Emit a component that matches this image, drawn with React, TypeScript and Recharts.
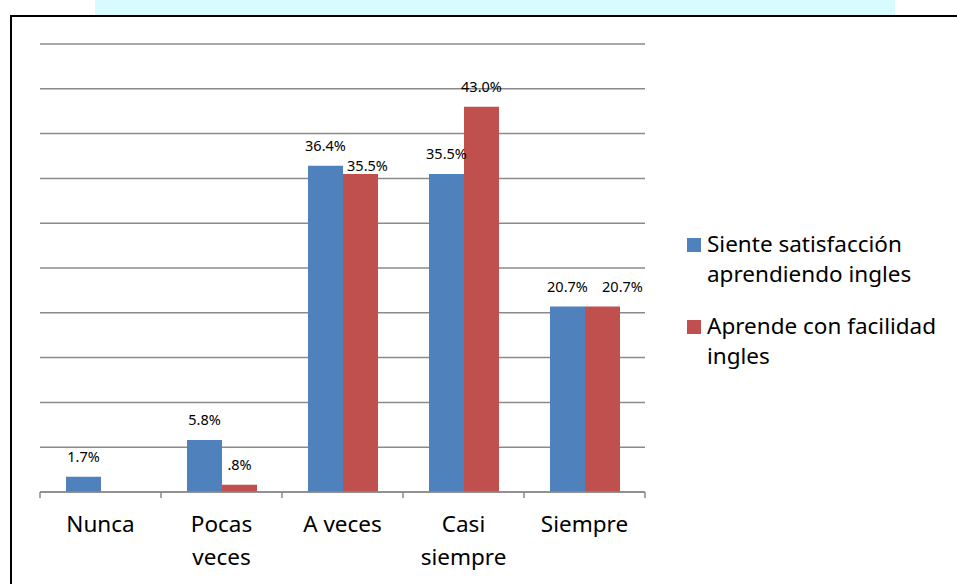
import React from 'react';
import { BarChart, Bar, XAxis, YAxis, CartesianGrid, Legend, LabelList } from 'recharts';

const categories = ['Nunca', 'Pocas veces', 'A veces', 'Casi siempre', 'Siempre'];
const satisfaccion = [1.7, 5.8, 36.4, 35.5, 20.7];
const facilidad = [null, 0.8, 35.5, 43.0, 20.7];
const yTicks = [0, 5, 10, 15, 20, 25, 30, 35, 40, 45, 50];

const seriesNames = ['Siente satisfacción aprendiendo ingles', 'Aprende con facilidad ingles'];
const legendLines = [
  ['Siente satisfacción', 'aprendiendo ingles'],
  ['Aprende con facilidad', 'ingles'],
];

const BLUE = '#4F81BD';
const RED = '#C0504D';
const GRID = '#8a8a8a';
const FONT = '"Noto Sans", "Open Sans", sans-serif';

const W = 957;
const H = 584;
const PLOT_LEFT = 40;
const PLOT_RIGHT = 645;
const BAND = (PLOT_RIGHT - PLOT_LEFT) / categories.length;

const data = categories.map((c, i) => ({
  name: c,
  a: satisfaccion[i],
  b: facilidad[i],
}));

// Excel-style "#.0%" -> 0.8 shows as ".8%"
const fmt = (v: number) => `${v.toFixed(1).replace(/^0/, '')}%`;

const makeLabel = (second: boolean) => (props: any) => {
  const { x, y, width, height, value } = props;
  if (value === null || value === undefined || value === '') return null;
  const v = Number(value);
  const bx = Number(x);
  const by = Number(y);
  const bw = Number(width);
  let tx = bx + bw / 2;
  let ty = by - 15;
  if (second) {
    // keep the second label clear of the first series label, like Excel does
    const idx = Math.floor((bx - PLOT_LEFT) / BAND);
    const other = satisfaccion[idx];
    const ppu = v > 0 ? Math.abs(Number(height)) / v : 0;
    if (other != null && ppu > 0) {
      const diffPx = (other - v) * ppu;
      if (Math.abs(diffPx) < 2) tx += 20;
      else if (diffPx > 0 && diffPx < 14) {
        ty = by - 3;
        tx += 7;
      }
    }
  }
  return (
    <text x={tx} y={ty} textAnchor="middle" fontSize={14.5} fontFamily={FONT} fill="#000">
      {fmt(v)}
    </text>
  );
};

const CategoryTick = (props: any) => {
  const { x, y, payload, index } = props;
  const half = BAND / 2;
  // two-word labels wrap except "A veces"
  const lines = payload.value === 'A veces' ? [payload.value] : String(payload.value).split(' ');
  return (
    <g>
      <line x1={x - half} x2={x - half} y1={y} y2={y + 6} stroke={GRID} strokeWidth={1.5} />
      {index === categories.length - 1 && (
        <line x1={x + half} x2={x + half} y1={y} y2={y + 6} stroke={GRID} strokeWidth={1.5} />
      )}
      {lines.map((l, i) => (
        <text key={i} x={x} y={y + 40 + i * 33} textAnchor="middle" fontSize={22.5} fontFamily={FONT} fill="#000">
          {l}
        </text>
      ))}
    </g>
  );
};

const LegendBox = () => (
  <div style={{ fontFamily: FONT, fontSize: 22.5, color: '#000', lineHeight: '30px' }}>
    {legendLines.map((lines, i) => (
      <div key={i} style={{ position: 'relative', paddingLeft: 20, marginBottom: i === 0 ? 22 : 0 }}>
        <span
          style={{
            position: 'absolute',
            left: 0,
            top: 9,
            width: 14,
            height: 14,
            background: i === 0 ? BLUE : RED,
          }}
        />
        {lines.map((l, j) => (
          <div key={j} style={{ whiteSpace: 'nowrap' }}>{l}</div>
        ))}
      </div>
    ))}
  </div>
);

export default function App() {
  return (
    <div style={{ position: 'absolute', left: 0, top: 0, width: W, height: H, background: '#fff', overflow: 'hidden' }}>
      <div style={{ position: 'absolute', left: 95, top: 0, width: 800, height: 15, background: '#d8fbff' }} />
      <div
        style={{
          position: 'absolute',
          left: 10,
          top: 15,
          width: W,
          height: H,
          borderLeft: '2px solid #000',
          borderTop: '2px solid #000',
          background: '#fff',
        }}
      />
      <div style={{ position: 'absolute', left: 0, top: 0 }}>
        <BarChart
          width={W}
          height={H}
          data={data}
          margin={{ top: 44, right: W - PLOT_RIGHT, left: PLOT_LEFT, bottom: 12 }}
          barSize={35}
          barGap={0}
        >
          <CartesianGrid vertical={false} stroke={GRID} strokeWidth={1.5} />
          <YAxis hide domain={[0, 50]} ticks={yTicks} type="number" />
          <XAxis
            dataKey="name"
            height={80}
            axisLine={{ stroke: GRID, strokeWidth: 1.5 }}
            tickLine={false}
            tickSize={0}
            tickMargin={0}
            interval={0}
            tick={<CategoryTick />}
          />
          <Legend
            layout="vertical"
            align="center"
            verticalAlign="middle"
            content={<LegendBox />}
            wrapperStyle={{ position: 'absolute', left: 687, top: 229, width: 268 }}
          />
          <Bar dataKey="a" name={seriesNames[0]} fill={BLUE} isAnimationActive={false}>
            <LabelList dataKey="a" content={makeLabel(false)} />
          </Bar>
          <Bar dataKey="b" name={seriesNames[1]} fill={RED} isAnimationActive={false}>
            <LabelList dataKey="b" content={makeLabel(true)} />
          </Bar>
        </BarChart>
      </div>
    </div>
  );
}
